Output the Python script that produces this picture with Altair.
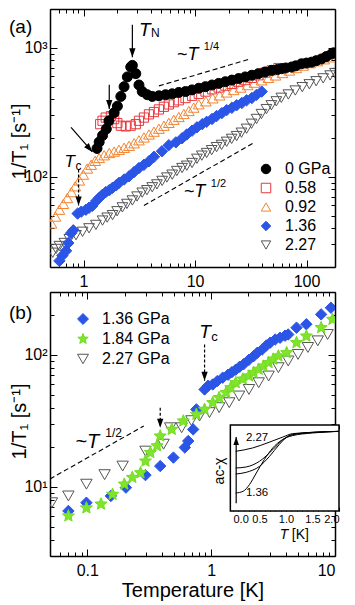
import altair as alt
import pandas as pd

FONT = "Liberation Sans"
W, HA, HB = 285, 258, 264
SPACING = 1

# ---------------- axis domains / ticks ----------------
A_XDOM = [0.5, 180]
A_YDOM = [20, 2000]
B_XDOM = [0.05, 10]
B_YDOM = [3, 300]
IN_XDOM = [0, 2]
IN_YDOM = [0, 1]
IN_XRANGE = [183, 289]
IN_YRANGE = [219, 133]

A_XTICKS = [0.5, 0.6, 0.7, 0.8, 0.9, 1, 2, 3, 4, 5, 6, 7, 8, 9, 10, 20, 30, 40, 50, 60, 70, 80, 90, 100]
A_YTICKS = [20, 30, 40, 50, 60, 70, 80, 90, 100, 200, 300, 400, 500, 600, 700, 800, 900, 1000, 2000]
B_XTICKS = [0.05, 0.06, 0.07, 0.08, 0.09, 0.1, 0.2, 0.3, 0.4, 0.5, 0.6, 0.7, 0.8, 0.9, 1, 2, 3, 4, 5, 6, 7, 8, 9, 10]
B_YTICKS = [3, 4, 5, 6, 7, 8, 9, 10, 20, 30, 40, 50, 60, 70, 80, 90, 100, 200, 300]
A_XLABELS = [1, 10, 100]
A_YLABELS = [100, 1000]
B_XLABELS = [0.1, 1, 10]
B_YLABELS = [10, 100]
IN_TICKS = [0, 0.1, 0.2, 0.3, 0.4, 0.5, 0.6, 0.7, 0.8, 0.9, 1.0, 1.1, 1.2, 1.3, 1.4, 1.5, 1.6, 1.7, 1.8, 1.9, 2.0]
IN_LABELS = [0, 0.5, 1.0, 1.5, 2.0]

Y_TITLE = "1/T\u2081 [s\u207b\u00b9]"
X_TITLE = "Temperature [K]"

# ---------------- panel (a) data ----------------
A_SERIES = ["0 GPa", "0.58", "0.92", "1.36", "2.27"]
A_STROKE = ["#000000", "#e8383d", "#f28430", "#2b55e6", "#555555"]
A_FILL = ["#000000", "transparent", "transparent", "#2b55e6", "transparent"]
A_SHAPE = ["circle", "square", "triangle-up", "diamond", "triangle-down"]
A_SIZE = [100, 85, 115, 130, 115]

a0_T = [1.32, 1.38, 1.48, 1.60, 1.69, 1.88, 2.01, 2.16, 2.31, 2.47, 2.65, 2.74, 2.94, 3.14, 3.36, 3.73,
        4.13, 4.74, 5.44, 6.24, 7.15, 8.21, 9.40, 10.8, 12.4, 14.2, 16.3, 18.7, 21.4, 24.6, 28.2, 32.3,
        37.0, 42.5, 48.7, 55.0, 59.8, 65.0, 73.5, 80.0, 90.2, 100, 111, 122, 136, 150, 167, 175]
a0_R = [166, 186, 209, 235, 272, 314, 353, 420, 500, 595, 710, 731, 631, 515, 458, 433,
        420, 425, 433, 440, 451, 458, 472, 486, 500, 515, 530, 546, 562, 578, 595, 613,
        631, 650, 669, 680, 689, 698, 710, 725, 752, 762, 774, 795, 820, 855, 894, 915]

a058_T = [1.41, 1.48, 1.58, 1.76, 1.88, 2.01, 2.16, 2.39, 2.65, 2.94, 3.14, 3.48, 3.86, 4.28, 4.74, 5.25,
          5.82, 6.45, 7.15, 8.21, 9.40, 10.8, 12.4, 14.2, 16.3, 18.7, 21.4, 24.6, 28.2, 32.3, 37.0, 42.5,
          48.7, 55.9]
a058_R = [256, 272, 288, 296, 280, 261, 249, 246, 249, 256, 272, 288, 305, 318, 333, 349,
          364, 379, 392, 408, 425, 440, 458, 477, 492, 509, 525, 546, 562, 585, 613, 642,
          669, 697]

a092_T = [0.515, 0.559, 0.607, 0.659, 0.715, 0.777, 0.843, 0.916, 0.994, 1.08, 1.17, 1.27, 1.38, 1.53,
          1.70, 1.88, 2.08, 2.31, 2.56, 2.84, 3.14, 3.48, 3.86, 4.28, 4.74, 5.26, 5.82, 6.45, 7.15, 7.93,
          8.79, 9.73, 10.8, 12.5, 14.4, 16.6, 19.2, 22.2, 25.6, 29.6, 34.1, 39.4, 45.5, 52.6, 60.7, 70.1,
          80.9, 93.5, 108, 125, 144, 166]
a092_R = [43.5, 49.2, 55.6, 61.7, 68.5, 76.1, 84.5, 93.8, 104, 116, 124, 133, 140, 147,
          153, 157, 162, 168, 174, 182, 192, 202, 213, 224, 236, 249, 262, 277, 291, 307,
          324, 344, 365, 385, 406, 428, 451, 471, 492, 514, 537, 560, 585, 611, 638, 667,
          697, 728, 761, 787, 815, 844]

a136_T = [0.607, 0.645, 0.697, 0.730, 0.772, 0.809, 0.884, 0.954, 1.05, 1.12, 1.20, 1.30, 1.38, 1.47,
          1.58, 1.70, 1.82, 1.96, 2.08, 2.31, 2.56, 2.84, 3.14, 3.48, 3.86, 4.28, 5.05, 5.82, 6.73, 7.65,
          8.43, 9.40, 10.4, 11.6, 12.7, 14.2, 15.6, 17.4, 19.2, 21.4, 23.6, 26.3, 29.0, 32.3, 35.6, 39.6]
a136_R = [22.3, 24.5, 26.7, 30.7, 36.6, 38.5, 51.9, 53.7, 55.6, 57.6, 59.6, 65.1, 68.6, 72.3,
          76.1, 78.8, 82.2, 85.9, 89.8, 95.4, 101, 109, 117, 124, 132, 143, 158, 176, 185, 199,
          213, 228, 242, 256, 267, 281, 296, 312, 329, 343, 359, 374, 392, 408, 432, 458]

a227_T = [0.529, 0.567, 0.607, 0.673, 0.745, 0.855, 0.980, 1.12, 1.29, 1.48, 1.63, 1.82, 2.00, 2.23,
          2.45, 2.74, 3.02, 3.36, 3.70, 4.13, 4.55, 5.07, 5.59, 6.24, 6.87, 7.65, 8.43, 9.40, 10.4, 11.5,
          12.7, 14.1, 15.6, 17.3, 19.2, 21.3, 23.6, 26.1, 29.0, 32.1, 35.6, 39.4, 43.7, 48.4, 53.6, 59.4,
          68.7, 79.3, 91.6, 106, 122, 141, 163, 180]
a227_R = [25.8, 27.6, 29.1, 30.7, 32.9, 35.3, 37.5, 39.9, 42.4, 45.8, 48.3, 50.5, 54.1, 58.0,
          61.7, 65.6, 70.4, 75.4, 78.8, 83.0, 87.4, 93.0, 98.8, 104, 111, 117, 122, 128, 138, 146,
          153, 161, 170, 177, 187, 197, 207, 220, 236, 258, 281, 307, 335, 359, 385, 410,
          435, 467, 496, 522, 551, 580, 611, 638]

# annotations (a)
A_DASH14_T = [4.74, 31.2]
A_DASH14_R = [507, 820]
A_DASH12_T = [3.48, 34.6]
A_DASH12_R = [59.9, 186]
A_ARROW_T1 = [2.74, 1.70, 0.772]
A_ARROW_T2 = [2.74, 1.70, 1.20]
A_ARROW_R1 = [1510, 518, 242]
A_ARROW_R2 = [845, 335, 156]
A_ARROW_ANG = [0, 0, 319]
A_TCARR_T = [0.902]
A_TCARR_R1 = [114]
A_TCARR_R2 = [59.9]

# ---------------- panel (b) data ----------------
B_SERIES = ["1.36 GPa", "1.84 GPa", "2.27 GPa"]
STAR = ("M0,-1L0.2645,-0.3641L0.9511,-0.309L0.428,0.1391L0.5878,0.809L0,0.45"
        "L-0.5878,0.809L-0.428,0.1391L-0.9511,-0.309L-0.2645,-0.3641Z")
B_STROKE = ["#2b55e6", "#72dc22", "#555555"]
B_FILL = ["#2b55e6", "#7fe52a", "transparent"]
B_SHAPE = ["diamond", STAR, "triangle-down"]
B_SIZE = [130, 160, 130]

b136_T = [0.0704, 0.0984, 0.155, 0.205, 0.295, 0.388, 0.496, 0.613, 0.653, 0.716, 0.760, 0.885, 0.946,
          1.03, 1.12, 1.24, 1.37, 1.47, 1.58, 1.70, 1.83, 2.02, 2.20, 2.36, 2.58, 2.79, 3.00, 3.29, 3.60,
          3.95, 4.19, 4.89, 5.87, 7.73, 9.27]
b136_R = [6.58, 7.60, 8.55, 9.89, 12.3, 14.4, 16.7, 19.9, 22.3, 27.3, 38.7, 54.8, 58.5,
          59.8, 63.4, 67.3, 70.9, 74.1, 77.4, 81.5, 85.2, 92.1, 97.9, 104, 110, 118, 124, 131, 135,
          140, 143, 161, 171, 203, 228]

b184_T = [0.0704, 0.0984, 0.129, 0.160, 0.199, 0.231, 0.269, 0.295, 0.323, 0.366, 0.388, 0.481, 0.596,
          0.760, 0.885, 1.03, 1.16, 1.32, 1.44, 1.58, 1.80, 2.02, 2.20, 2.42, 2.64, 2.91, 3.17, 3.49,
          4.07, 4.89, 5.87, 7.73, 9.55]
b184_R = [6.03, 6.94, 7.42, 8.79, 10.5, 11.8, 12.8, 15.7, 18.2, 20.5, 24.3, 27.3, 31.6,
          35.5, 38.7, 43.5, 47.5, 51.8, 56.5, 61.6, 65.6, 69.3, 73.5, 77.8, 82.2, 87.4, 92.9, 98.2,
          104, 124, 139, 161, 186]

b227_T = [0.0518, 0.0704, 0.0984, 0.138, 0.193, 0.295, 0.413, 0.467, 0.578, 0.693, 0.807, 0.969, 1.16,
          1.40, 1.68, 2.02, 2.42, 2.91, 3.49, 4.19, 5.03, 6.04, 7.26, 8.72]
b227_R = [7.60, 8.55, 10.5, 12.4, 14.4, 18.7, 21.1, 28.1, 28.1, 31.8, 34.5, 36.6, 39.9,
          43.5, 48.9, 54.8, 61.6, 69.3, 80.1, 90.1, 101, 114, 128, 143]

# annotations (b)
B_DASH12_T = [0.05, 0.286]
B_DASH12_R = [11.5, 29.0]
B_TCARR_T = [0.885, 0.388]
B_TCARR_R1 = [120, 39.9]
B_TCARR_R2 = [63.8, 28.1]

# inset: ac susceptibility curves (arbitrary units)
IN_CURVES = ["2.27", "c2", "c3", "1.36"]
in1_x = [0.05, 0.37, 0.68, 0.94, 1.12, 1.50, 2.0]
in1_y = [0.694, 0.733, 0.799, 0.860, 0.899, 0.915, 0.926]
in2_x = [0.05, 0.25, 0.50, 0.75, 0.94, 1.12, 1.50, 2.0]
in2_y = [0.500, 0.512, 0.578, 0.713, 0.829, 0.887, 0.915, 0.926]
in3_x = [0.05, 0.25, 0.50, 0.69, 0.87, 1.06, 1.25, 2.0]
in3_y = [0.430, 0.450, 0.519, 0.636, 0.771, 0.876, 0.899, 0.926]
in4_x = [0.05, 0.19, 0.31, 0.44, 0.59, 0.75, 0.93, 1.12, 1.50, 2.0]
in4_y = [0.209, 0.229, 0.306, 0.442, 0.597, 0.733, 0.829, 0.876, 0.907, 0.926]
IN_BOX_X = [-0.05, 2.0]
IN_BOX_Y = [0, 1]
IN_ARROW_X = [0.06]
IN_ARROW_Y = [0.09, 0.86]

HEAD_DOWN = "M0,0L-0.7,-2L0.7,-2Z"
HEAD_UP = "M0,0L-0.7,2L0.7,2Z"

MAJOR_LOG = "abs(log(datum.value)/LN10 - round(log(datum.value)/LN10)) < 0.001"
MAJOR_IN = "abs(datum.value*2 - round(datum.value*2)) < 0.001"


# ---------------- helpers ----------------
def lsc(dom):
    return alt.Scale(type="log", domain=dom, nice=False)


def isc(dom, rng):
    return alt.Scale(type="linear", domain=dom, range=rng, nice=False, zero=False)


def tick_axis(orient, offset, values, test=MAJOR_LOG, major=7, minor=4, domain=False):
    kw = dict(orient=orient, offset=offset, values=values, labels=False, ticks=True,
              tickSize={"condition": {"test": test, "value": major}, "value": minor},
              tickColor="black", tickWidth=1, grid=False, title=None, domain=domain)
    if domain:
        kw.update(domainColor="black", domainWidth=1.5)
    return alt.Axis(**kw)


def x_label_axis(values, **extra):
    return alt.Axis(orient="bottom", values=values, ticks=False, domain=True, domainColor="black",
                    domainWidth=1.5, format="~g", labelFont=FONT, labelFontSize=16, labelColor="black",
                    labelPadding=6, grid=False, **extra)


def y_label_axis(values, title_y):
    return alt.Axis(orient="left", values=values, ticks=False, domain=True, domainColor="black",
                    domainWidth=1.5,
                    labelExpr="'10' + (datum.value == 10 ? '\u00b9' : datum.value == 100 ? '\u00b2' : '\u00b3')",
                    labelFont=FONT, labelFontSize=16, labelColor="black", labelPadding=3, grid=False,
                    title=Y_TITLE, titleFont=FONT, titleFontSize=20, titleFontWeight="normal",
                    titleColor="black", titleAngle=270, titleX=-25, titleY=title_y,
                    titleAlign="center", titleBaseline="alphabetic")


def text_layer(xs, ys, label, xdom, ydom, **mk):
    d = pd.DataFrame({"x": xs, "y": ys, "t": [label] * len(xs)})
    base = dict(font=FONT, color="black", align="left", baseline="alphabetic")
    base.update(mk)
    return alt.Chart(d).mark_text(**base).encode(
        x=alt.X("x:Q", scale=lsc(xdom), axis=None),
        y=alt.Y("y:Q", scale=lsc(ydom), axis=None),
        text="t:N")


def series_layers(series, Ts, Rs, strokes, fills, shapes, sizes, legend, xdom, ydom, xaxis, yaxis, order):
    frames = [pd.DataFrame({"T": t, "R": r, "s": s}) for s, t, r in zip(series, Ts, Rs)]
    df = pd.concat(frames, ignore_index=True)
    out = []
    first = True
    for i in order:
        ch = alt.Chart(df).transform_filter(alt.datum.s == series[i]).mark_point(
            opacity=1, strokeWidth=1, size=sizes[i], clip=True).encode(
            x=alt.X("T:Q", scale=lsc(xdom), axis=xaxis if first else None),
            y=alt.Y("R:Q", scale=lsc(ydom), axis=yaxis if first else None),
            shape=alt.Shape("s:N", scale=alt.Scale(domain=series, range=shapes), legend=legend),
            fill=alt.Fill("s:N", scale=alt.Scale(domain=series, range=fills), legend=legend),
            stroke=alt.Stroke("s:N", scale=alt.Scale(domain=series, range=strokes), legend=legend),
        )
        out.append(ch)
        first = False
    return out


def arrows(T1, T2, R1, R2, ang, xdom, ydom, xaxis=None, yaxis=None, dash=None, head=HEAD_DOWN):
    d = pd.DataFrame({"T1": T1, "T2": T2, "R1": R1, "R2": R2, "ang": ang})
    rk = dict(color="black", strokeWidth=1.2)
    if dash:
        rk["strokeDash"] = dash
    rule = alt.Chart(d).mark_rule(**rk).encode(
        x=alt.X("T1:Q", scale=lsc(xdom), axis=xaxis),
        x2="T2:Q",
        y=alt.Y("R1:Q", scale=lsc(ydom), axis=yaxis),
        y2="R2:Q")
    headm = alt.Chart(d).mark_point(shape=head, filled=True, color="black", opacity=1, size=81).encode(
        x=alt.X("T2:Q", scale=lsc(xdom), axis=None),
        y=alt.Y("R2:Q", scale=lsc(ydom), axis=None),
        angle=alt.Angle("ang:Q", scale=None))
    return [rule, headm]


def dashed(Ts, Rs, xdom, ydom, xaxis=None, yaxis=None):
    d = pd.DataFrame({"T": Ts, "R": Rs})
    return alt.Chart(d).mark_line(color="black", strokeWidth=1.1, strokeDash=[5, 3]).encode(
        x=alt.X("T:Q", scale=lsc(xdom), axis=xaxis),
        y=alt.Y("R:Q", scale=lsc(ydom), axis=yaxis))


def corner_label(t, y):
    return alt.Chart(pd.DataFrame({"t": [t]})).mark_text(
        font=FONT, fontSize=19, color="black", align="left", baseline="alphabetic").encode(
        x=alt.value(-41), y=alt.value(y), text="t:N")


# ---------------- panel (a) ----------------
leg_a = alt.Legend(orient="none", legendX=208, legendY=152, title=None, labelFont=FONT, labelFontSize=16,
                   labelColor="black", symbolSize=90, symbolStrokeWidth=1, labelOffset=11, rowPadding=3,
                   padding=0)

layers_a = series_layers(A_SERIES, [a0_T, a058_T, a092_T, a136_T, a227_T],
                         [a0_R, a058_R, a092_R, a136_R, a227_R],
                         A_STROKE, A_FILL, A_SHAPE, A_SIZE, leg_a, A_XDOM, A_YDOM,
                         x_label_axis(A_XLABELS, title=None), y_label_axis(A_YLABELS, 132),
                         [4, 3, 2, 1, 0])
layers_a.append(dashed(A_DASH14_T, A_DASH14_R, A_XDOM, A_YDOM,
                       xaxis=tick_axis("top", -HA, A_XTICKS), yaxis=tick_axis("right", -W, A_YTICKS)))
layers_a.append(dashed(A_DASH12_T, A_DASH12_R, A_XDOM, A_YDOM))
layers_a += arrows(A_ARROW_T1, A_ARROW_T2, A_ARROW_R1, A_ARROW_R2, A_ARROW_ANG, A_XDOM, A_YDOM,
                   xaxis=tick_axis("bottom", -HA, A_XTICKS, domain=True),
                   yaxis=tick_axis("left", -W, A_YTICKS, domain=True))
layers_a += arrows(A_TCARR_T, A_TCARR_T, A_TCARR_R1, A_TCARR_R2, [0], A_XDOM, A_YDOM, dash=[3, 2])
layers_a += [
    text_layer([3.14], [1240], "T", A_XDOM, A_YDOM, fontSize=19, fontStyle="italic"),
    text_layer([3.14], [1240], "N", A_XDOM, A_YDOM, fontSize=12, dx=12, dy=1),
    text_layer([6.87], [802], "~T", A_XDOM, A_YDOM, fontSize=18, fontStyle="italic"),
    text_layer([6.87], [802], "1/4", A_XDOM, A_YDOM, fontSize=11, dx=27, dy=-10),
    text_layer([7.93], [69.3], "~T", A_XDOM, A_YDOM, fontSize=18, fontStyle="italic"),
    text_layer([7.93], [69.3], "1/2", A_XDOM, A_YDOM, fontSize=11, dx=27, dy=-10),
    text_layer([0.673], [120], "T", A_XDOM, A_YDOM, fontSize=17, fontStyle="italic"),
    text_layer([0.673], [120], "c", A_XDOM, A_YDOM, fontSize=12, dx=11, dy=3),
    corner_label("(a)", 24),
]

# ---------------- panel (b) ----------------
leg_b = alt.Legend(orient="none", legendX=25, legendY=19, title=None, labelFont=FONT, labelFontSize=16,
                   labelColor="black", symbolSize=120, symbolStrokeWidth=1, labelOffset=11, rowPadding=4,
                   padding=0)

layers_b = series_layers(B_SERIES, [b136_T, b184_T, b227_T], [b136_R, b184_R, b227_R],
                         B_STROKE, B_FILL, B_SHAPE, B_SIZE, leg_b, B_XDOM, B_YDOM,
                         x_label_axis(B_XLABELS, title=X_TITLE, titleFont=FONT, titleFontSize=20,
                                      titleFontWeight="normal", titleColor="black", titlePadding=2),
                         y_label_axis(B_YLABELS, 129), [2, 0, 1])
layers_b.append(dashed(B_DASH12_T, B_DASH12_R, B_XDOM, B_YDOM,
                       xaxis=tick_axis("top", -HB, B_XTICKS), yaxis=tick_axis("right", -W, B_YTICKS)))
layers_b += arrows(B_TCARR_T, B_TCARR_T, B_TCARR_R1, B_TCARR_R2, [0, 0], B_XDOM, B_YDOM, dash=[3, 2],
                   xaxis=tick_axis("bottom", -HB, B_XTICKS, domain=True),
                   yaxis=tick_axis("left", -W, B_YTICKS, domain=True))
layers_b += [
    text_layer([0.80], [135], "T", B_XDOM, B_YDOM, fontSize=19, fontStyle="italic"),
    text_layer([0.80], [135], "c", B_XDOM, B_YDOM, fontSize=13, dx=12, dy=3),
    text_layer([0.080], [19.9], "~T", B_XDOM, B_YDOM, fontSize=20, fontStyle="italic"),
    text_layer([0.080], [19.9], "1/2", B_XDOM, B_YDOM, fontSize=12, dx=30, dy=-11),
    corner_label("(b)", 27),
]

# inset
box = pd.DataFrame({"x0": [IN_BOX_X[0]], "x1": [IN_BOX_X[1]], "y0": [IN_BOX_Y[0]], "y1": [IN_BOX_Y[1]]})
layers_b.append(alt.Chart(box).mark_rect(fill="white", stroke="black", strokeWidth=1.5).encode(
    x=alt.X("x0:Q", scale=isc(IN_XDOM, IN_XRANGE),
            axis=alt.Axis(orient="bottom", offset=-(HB - IN_YRANGE[0]), values=IN_LABELS, ticks=False,
                          domain=False, format=".1f", labelFont=FONT, labelFontSize=11,
                          labelColor="black", labelPadding=2, grid=False, title=None)),
    x2="x1:Q",
    y=alt.Y("y0:Q", scale=isc(IN_YDOM, IN_YRANGE), axis=None),
    y2="y1:Q"))

curves = pd.concat([pd.DataFrame({"x": xs, "y": ys, "c": c}) for c, xs, ys in
                    zip(IN_CURVES, [in1_x, in2_x, in3_x, in4_x], [in1_y, in2_y, in3_y, in4_y])],
                   ignore_index=True)
layers_b.append(alt.Chart(curves).mark_line(color="black", strokeWidth=1, interpolate="monotone").encode(
    x=alt.X("x:Q", scale=isc(IN_XDOM, IN_XRANGE),
            axis=tick_axis("top", -IN_YRANGE[0], IN_TICKS, test=MAJOR_IN, major=4, minor=2.5)),
    y=alt.Y("y:Q", scale=isc(IN_YDOM, IN_YRANGE), axis=None),
    detail="c:N"))

arr = pd.DataFrame({"x": IN_ARROW_X, "y1": [IN_ARROW_Y[0]], "y2": [IN_ARROW_Y[1]]})
layers_b.append(alt.Chart(arr).mark_rule(color="black", strokeWidth=1.2).encode(
    x=alt.X("x:Q", scale=isc(IN_XDOM, IN_XRANGE),
            axis=tick_axis("bottom", -(HB - IN_YRANGE[1]), IN_TICKS, test=MAJOR_IN, major=4, minor=2.5)),
    y=alt.Y("y1:Q", scale=isc(IN_YDOM, IN_YRANGE), axis=None),
    y2="y2:Q"))
layers_b.append(alt.Chart(arr).mark_point(shape=HEAD_UP, filled=True, color="black", opacity=1, size=64).encode(
    x=alt.X("x:Q", scale=isc(IN_XDOM, IN_XRANGE), axis=None),
    y=alt.Y("y2:Q", scale=isc(IN_YDOM, IN_YRANGE), axis=None)))


def inset_text(x, y, label, **mk):
    d = pd.DataFrame({"x": [x], "y": [y], "t": [label]})
    base = dict(font=FONT, color="black", align="left", baseline="alphabetic")
    base.update(mk)
    return alt.Chart(d).mark_text(**base).encode(
        x=alt.X("x:Q", scale=isc(IN_XDOM, IN_XRANGE), axis=None),
        y=alt.Y("y:Q", scale=isc(IN_YDOM, IN_YRANGE), axis=None),
        text="t:N")


layers_b += [
    inset_text(0.243, 0.814, "2.27", fontSize=11.5),
    inset_text(0.243, 0.174, "1.36", fontSize=11.5),
    inset_text(-0.243, 0.465, "ac-\u03c7", fontSize=14, angle=270, align="center", baseline="middle"),
    inset_text(0.88, -0.326, "T", fontSize=14, fontStyle="italic"),
    inset_text(1.11, -0.326, "[K]", fontSize=14),
]

panel_a = alt.layer(*layers_a).resolve_scale(x="independent", y="independent").properties(width=W, height=HA)
panel_b = alt.layer(*layers_b).resolve_scale(x="independent", y="independent").properties(width=W, height=HB)

chart = alt.vconcat(panel_a, panel_b, spacing=SPACING).resolve_scale(
    shape="independent", fill="independent", stroke="independent"
).properties(padding=0).configure(font=FONT).configure_view(stroke="transparent")

chart.save("out.html", embed_options={"renderer": "svg", "actions": False})
